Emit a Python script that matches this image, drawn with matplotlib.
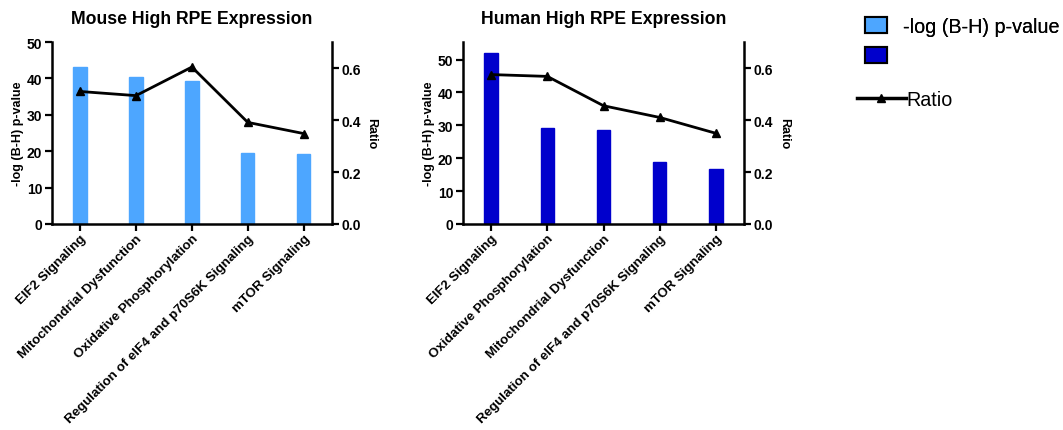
import matplotlib
matplotlib.use('Agg')
import matplotlib.pyplot as plt
from matplotlib.patches import Patch
from matplotlib.lines import Line2D

plt.rcParams['font.family'] = ['Liberation Sans', 'DejaVu Sans']

mouse_paths = ['EIF2 Signaling', 'Mitochondrial Dysfunction', 'Oxidative Phosphorylation',
               'Regulation of eIF4 and p70S6K Signaling', 'mTOR Signaling']
mouse_logp = [43.2, 40.4, 39.2, 19.5, 19.2]
mouse_ratio = [0.51, 0.494, 0.604, 0.391, 0.348]

human_paths = ['EIF2 Signaling', 'Oxidative Phosphorylation', 'Mitochondrial Dysfunction',
               'Regulation of eIF4 and p70S6K Signaling', 'mTOR Signaling']
human_logp = [52.0, 29.3, 28.7, 18.8, 16.6]
human_ratio = [0.575, 0.568, 0.455, 0.41, 0.349]

mouse_color = '#4da6ff'
human_color = '#0000cc'

fig = plt.figure(figsize=(10.63, 4.31), dpi=100)


def panel(rect, title, labels, logp, ratio, color, ymax, yticks):
    ax = fig.add_axes(rect)
    x = list(range(len(labels)))
    ax.bar(x, logp, width=0.24, color=color, edgecolor=color, zorder=1)
    ax.set_xlim(-0.5, 4.5)
    ax.set_ylim(0, ymax)
    ax.set_yticks(yticks)
    ax.set_xticks(x)
    ax.set_xticklabels(labels, rotation=45, ha='right', rotation_mode='anchor',
                       fontsize=9.6, fontweight='bold')
    ax.set_ylabel('-log (B-H) p-value', fontsize=9, fontweight='bold', labelpad=2)
    ax.set_title(title, fontsize=12.7, fontweight='bold', pad=14)
    for s in ['top', 'right']:
        ax.spines[s].set_visible(False)
    for s in ['left', 'bottom']:
        ax.spines[s].set_linewidth(1.8)
    ax.tick_params(width=1.6, length=5, labelsize=10, pad=2)
    ax.tick_params(axis='x', labelsize=9.6, pad=1)
    for t in ax.get_yticklabels():
        t.set_fontweight('bold')

    ax2 = ax.twinx()
    ax2.plot(x, ratio, color='black', lw=2, marker='^', ms=6, zorder=3)
    ax2.set_ylim(0, 0.7)
    ax2.set_yticks([0.0, 0.2, 0.4, 0.6])
    ax2.set_yticklabels(['0.0', '0.2', '0.4', '0.6'], fontweight='bold')
    ax2.set_ylabel('Ratio', fontsize=9, fontweight='bold', rotation=270, labelpad=12)
    for s in ['top', 'left', 'bottom']:
        ax2.spines[s].set_visible(False)
    ax2.spines['right'].set_linewidth(1.8)
    ax2.tick_params(width=1.6, length=5, labelsize=10, pad=2)
    return ax


panel([0.049, 0.478, 0.263, 0.422], 'Mouse High RPE Expression', mouse_paths,
      mouse_logp, mouse_ratio, mouse_color, 50, [0, 10, 20, 30, 40, 50])
panel([0.4356, 0.478, 0.2643, 0.422], 'Human High RPE Expression', human_paths,
      human_logp, human_ratio, human_color, 55.3, [0, 10, 20, 30, 40, 50])

patches = [Patch(facecolor=mouse_color, edgecolor='black', lw=1.5, label='-log (B-H) p-value'),
           Patch(facecolor=human_color, edgecolor='black', lw=1.5, label='')]
leg1 = fig.legend(handles=patches, loc='upper left', bbox_to_anchor=(0.806, 0.977),
                  borderaxespad=0, frameon=False, fontsize=14.2, handlelength=1.12,
                  handleheight=0.86, labelspacing=0.55, handletextpad=0.8)
fig.add_artist(leg1)
line = [Line2D([0], [0], color='black', lw=2.5, marker='^', ms=6, label='Ratio')]
fig.legend(handles=line, loc='upper left', bbox_to_anchor=(0.799, 0.808), borderaxespad=0,
           frameon=False, fontsize=14.2, handlelength=2.45, handletextpad=0.05)

fig.savefig('out.png', dpi=100)
